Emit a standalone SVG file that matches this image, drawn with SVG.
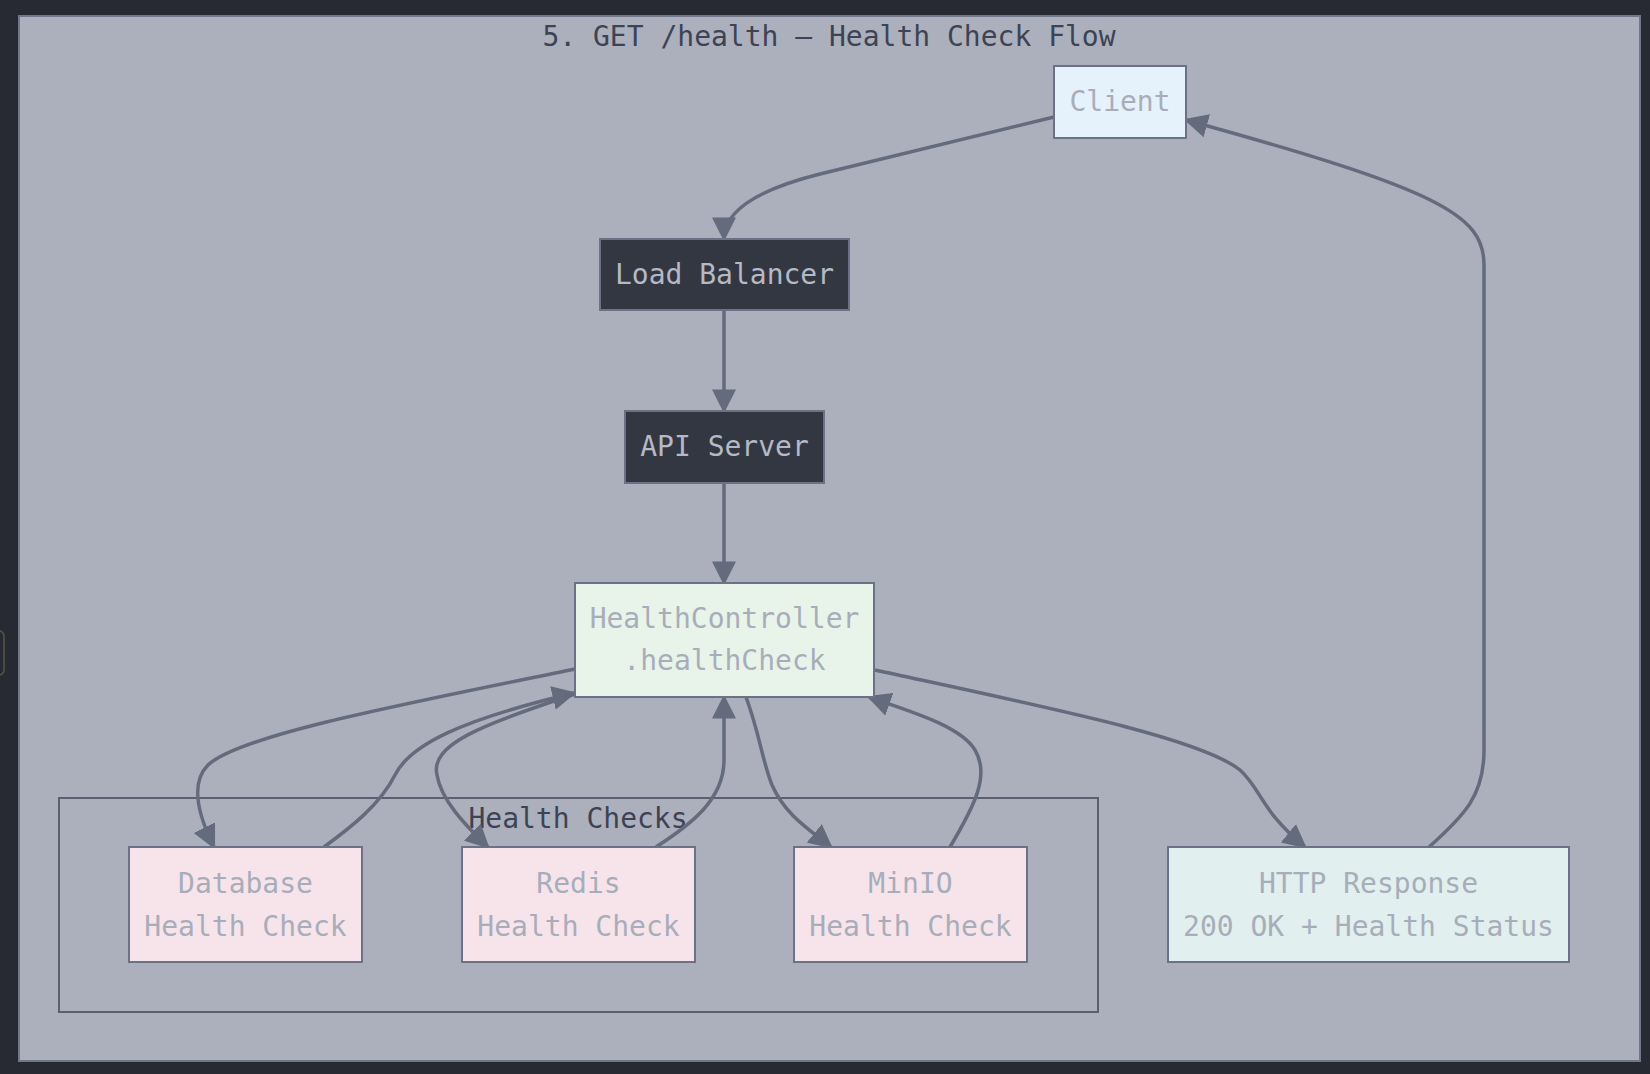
<svg xmlns="http://www.w3.org/2000/svg" width="1650" height="1074" viewBox="0 0 1650 1074">
<defs>
<style>
.t{font-family:"DejaVu Sans Mono","Liberation Mono",monospace;font-size:28px;text-anchor:middle}
.dark rect{fill:#333742;stroke:#6b7285;stroke-width:2}
.dark text{fill:#b4b9c5}
.lite text{fill:#a8adba}
.box{stroke:#6b7285;stroke-width:2}
.e{fill:none;stroke:#646b7d;stroke-width:3.5}
</style>
<marker id="ah" viewBox="0 0 10 10" refX="9" refY="5" markerWidth="24" markerHeight="24" markerUnits="userSpaceOnUse" orient="auto">
<path d="M0,0 L10,5 L0,10 z" fill="#646b7d"/>
</marker>
</defs>
<rect x="0" y="0" width="1650" height="1074" fill="#272a33"/>
<rect x="-8" y="631" width="12" height="44" rx="5" fill="#272a33" stroke="#5b5640" stroke-width="1.5"/>
<rect x="19" y="16" width="1621" height="1045" fill="#abb0bc" stroke="#70778a" stroke-width="2"/>
<text class="t" x="829" y="46" fill="#3d4354">5. GET /health – Health Check Flow</text>

<g id="cluster-health-checks">
<rect x="59" y="798" width="1039" height="214" fill="none" stroke="#5a6072" stroke-width="2"/>
<text class="t" x="578" y="828" fill="#3d4354">Health Checks</text>
</g>

<g id="connectors">
<path class="e" marker-end="url(#ah)" d="M1054,117 L820,174 Q724,198 724,239"/>
<path class="e" marker-end="url(#ah)" d="M724,310 L724,411"/>
<path class="e" marker-end="url(#ah)" d="M724,483 L724,583"/>
<path class="e" marker-end="url(#ah)" d="M575,669 C400,705 240,735 208,765 C190,783 198,815 214,847"/>
<path class="e" marker-end="url(#ah)" d="M324,847 C350,828 380,805 395,775 C410,745 460,720 574,693"/>
<path class="e" marker-end="url(#ah)" d="M575,694 C480,725 430,745 437,775 C441,800 465,825 488,847"/>
<path class="e" marker-end="url(#ah)" d="M656,847 C690,825 724,800 724,760 L724,697"/>
<path class="e" marker-end="url(#ah)" d="M746,697 C760,735 762,760 772,785 C785,815 810,830 831,847"/>
<path class="e" marker-end="url(#ah)" d="M950,847 C975,805 990,775 975,750 C960,725 905,710 869,697"/>
<path class="e" marker-end="url(#ah)" d="M875,670 C1050,708 1200,738 1240,770 C1262,790 1260,810 1305,847"/>
<path class="e" marker-end="url(#ah)" d="M1429,847 C1465,815 1484,795 1484,750 L1484,265 C1484,215 1440,190 1186,120"/>
</g>

<g id="client" class="lite">
<rect class="box" x="1054" y="66" width="132" height="72" fill="#e6f2fb"/>
<text class="t" x="1120" y="111">Client</text>
</g>
<g id="load-balancer" class="dark">
<rect x="600" y="239" width="249" height="71"/>
<text class="t" x="724.5" y="284">Load Balancer</text>
</g>
<g id="api-server" class="dark">
<rect x="625" y="411" width="199" height="72"/>
<text class="t" x="724.5" y="456">API Server</text>
</g>
<g id="health-controller" class="lite">
<rect class="box" x="575" y="583" width="299" height="114" fill="#e8f4e9"/>
<text class="t" x="724.5" y="628">HealthController</text>
<text class="t" x="724.5" y="670">.healthCheck</text>
</g>
<g id="database-check" class="lite">
<rect class="box" x="129" y="847" width="233" height="115" fill="#f7e4ea"/>
<text class="t" x="245.5" y="893">Database</text>
<text class="t" x="245.5" y="936">Health Check</text>
</g>
<g id="redis-check" class="lite">
<rect class="box" x="462" y="847" width="233" height="115" fill="#f7e4ea"/>
<text class="t" x="578.5" y="893">Redis</text>
<text class="t" x="578.5" y="936">Health Check</text>
</g>
<g id="minio-check" class="lite">
<rect class="box" x="794" y="847" width="233" height="115" fill="#f7e4ea"/>
<text class="t" x="910.5" y="893">MinIO</text>
<text class="t" x="910.5" y="936">Health Check</text>
</g>
<g id="http-response" class="lite">
<rect class="box" x="1168" y="847" width="401" height="115" fill="#e1efee"/>
<text class="t" x="1368.5" y="893">HTTP Response</text>
<text class="t" x="1368.5" y="936">200 OK + Health Status</text>
</g>
</svg>
